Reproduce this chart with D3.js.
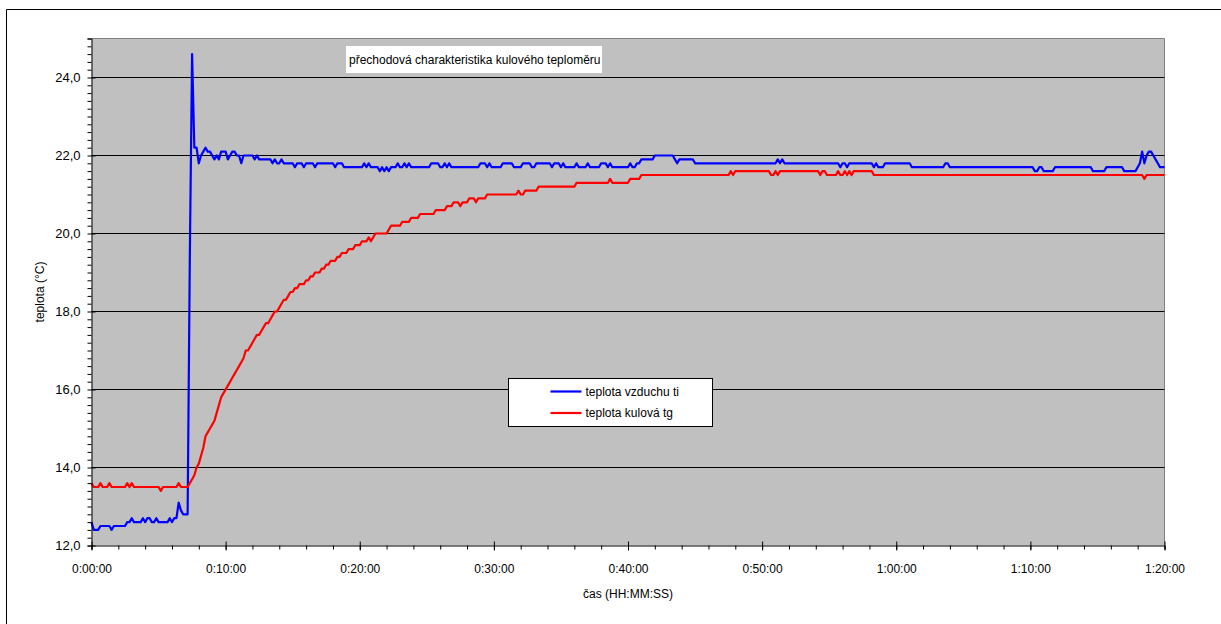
<!DOCTYPE html>
<html>
<head>
<meta charset="utf-8">
<script src="https://cdn.jsdelivr.net/npm/d3@7"></script>
<style>
  body { margin: 0; background: #fff; }
  svg text { font-family: "Liberation Sans", Arial, sans-serif; fill: #000; }
</style>
</head>
<body>
<div id="chart"></div>
<script>
// one reading every 10 s, 0:00:00 .. 1:20:00
const SAMPLE_SEC = 10

// teplota vzduchu ti (°C)
const tiValues = [
  12.6, 12.4, 12.4, 12.4, 12.5, 12.5, 12.5, 12.5, 12.5, 12.4,
  12.5, 12.5, 12.5, 12.5, 12.5, 12.5, 12.6, 12.6, 12.7, 12.6,
  12.6, 12.6, 12.6, 12.7, 12.6, 12.7, 12.7, 12.6, 12.6, 12.7,
  12.6, 12.6, 12.6, 12.6, 12.6, 12.7, 12.6, 12.7, 12.7, 13.1,
  12.9, 12.8, 12.8, 12.8, 19.5, 24.6, 22.2, 22.2, 21.8, 22.0,
  22.1, 22.2, 22.1, 22.1, 22.0, 21.9, 22.0, 21.9, 22.1, 22.1,
  22.1, 21.9, 22.0, 22.1, 22.1, 22.0, 22.0, 21.8, 22.0, 22.0,
  22.0, 22.0, 22.0, 21.9, 22.0, 21.9, 21.9, 21.9, 21.9, 21.9,
  21.9, 21.8, 21.9, 21.8, 21.8, 21.9, 21.8, 21.8, 21.8, 21.8,
  21.8, 21.7, 21.8, 21.8, 21.8, 21.7, 21.8, 21.8, 21.8, 21.8,
  21.7, 21.8, 21.8, 21.8, 21.8, 21.8, 21.8, 21.8, 21.8, 21.7,
  21.8, 21.8, 21.8, 21.7, 21.7, 21.7, 21.7, 21.7, 21.7, 21.7,
  21.7, 21.7, 21.8, 21.7, 21.8, 21.7, 21.7, 21.7, 21.7, 21.6,
  21.7, 21.6, 21.7, 21.6, 21.7, 21.7, 21.7, 21.8, 21.7, 21.7,
  21.8, 21.7, 21.8, 21.7, 21.7, 21.7, 21.7, 21.7, 21.7, 21.7,
  21.7, 21.7, 21.8, 21.8, 21.8, 21.8, 21.7, 21.7, 21.8, 21.7,
  21.8, 21.7, 21.7, 21.7, 21.7, 21.7, 21.7, 21.7, 21.7, 21.7,
  21.7, 21.7, 21.7, 21.7, 21.8, 21.8, 21.8, 21.7, 21.8, 21.7,
  21.7, 21.7, 21.7, 21.7, 21.8, 21.8, 21.8, 21.8, 21.8, 21.7,
  21.7, 21.7, 21.7, 21.8, 21.8, 21.8, 21.8, 21.7, 21.7, 21.8,
  21.8, 21.8, 21.8, 21.8, 21.8, 21.8, 21.7, 21.8, 21.8, 21.8,
  21.7, 21.8, 21.7, 21.7, 21.7, 21.7, 21.7, 21.8, 21.7, 21.7,
  21.7, 21.7, 21.8, 21.7, 21.7, 21.7, 21.7, 21.7, 21.8, 21.8,
  21.8, 21.7, 21.8, 21.7, 21.7, 21.7, 21.7, 21.7, 21.7, 21.7,
  21.7, 21.8, 21.7, 21.7, 21.8, 21.8, 21.9, 21.9, 21.9, 21.9,
  21.9, 21.9, 22.0, 22.0, 22.0, 22.0, 22.0, 22.0, 22.0, 22.0,
  22.0, 21.9, 21.8, 21.9, 21.9, 21.9, 21.9, 21.9, 21.9, 21.9,
  21.8, 21.8, 21.8, 21.8, 21.8, 21.8, 21.8, 21.8, 21.8, 21.8,
  21.8, 21.8, 21.8, 21.8, 21.8, 21.8, 21.8, 21.8, 21.8, 21.8,
  21.8, 21.8, 21.8, 21.8, 21.8, 21.8, 21.8, 21.8, 21.8, 21.8,
  21.8, 21.8, 21.8, 21.8, 21.8, 21.8, 21.8, 21.9, 21.8, 21.9,
  21.8, 21.8, 21.8, 21.8, 21.8, 21.8, 21.8, 21.8, 21.8, 21.8,
  21.8, 21.8, 21.8, 21.8, 21.8, 21.8, 21.8, 21.8, 21.8, 21.8,
  21.8, 21.8, 21.8, 21.8, 21.8, 21.7, 21.8, 21.8, 21.7, 21.8,
  21.8, 21.8, 21.8, 21.8, 21.8, 21.8, 21.8, 21.8, 21.8, 21.8,
  21.7, 21.8, 21.7, 21.7, 21.7, 21.8, 21.8, 21.8, 21.8, 21.8,
  21.8, 21.8, 21.8, 21.8, 21.8, 21.8, 21.8, 21.7, 21.7, 21.7,
  21.7, 21.7, 21.7, 21.7, 21.7, 21.7, 21.7, 21.7, 21.7, 21.7,
  21.7, 21.7, 21.8, 21.8, 21.7, 21.7, 21.7, 21.7, 21.7, 21.7,
  21.7, 21.7, 21.7, 21.7, 21.7, 21.7, 21.7, 21.7, 21.7, 21.7,
  21.7, 21.7, 21.7, 21.7, 21.7, 21.7, 21.7, 21.7, 21.7, 21.7,
  21.7, 21.7, 21.7, 21.7, 21.7, 21.7, 21.7, 21.7, 21.7, 21.7,
  21.7, 21.7, 21.6, 21.6, 21.7, 21.7, 21.6, 21.6, 21.6, 21.6,
  21.6, 21.7, 21.7, 21.7, 21.7, 21.7, 21.7, 21.7, 21.7, 21.7,
  21.7, 21.7, 21.7, 21.7, 21.7, 21.7, 21.7, 21.7, 21.6, 21.6,
  21.6, 21.6, 21.6, 21.6, 21.7, 21.7, 21.7, 21.7, 21.7, 21.7,
  21.7, 21.7, 21.6, 21.6, 21.6, 21.6, 21.6, 21.6, 21.7, 21.8,
  22.1, 21.8, 22.0, 22.1, 22.1, 22.0, 21.9, 21.8, 21.7, 21.7,
  21.7
]

// teplota kulová tg (°C)
const tgValues = [
  13.6, 13.5, 13.5, 13.5, 13.6, 13.5, 13.5, 13.5, 13.6, 13.5,
  13.5, 13.5, 13.5, 13.5, 13.5, 13.5, 13.6, 13.5, 13.6, 13.5,
  13.5, 13.5, 13.5, 13.5, 13.5, 13.5, 13.5, 13.5, 13.5, 13.5,
  13.5, 13.4, 13.5, 13.5, 13.5, 13.5, 13.5, 13.5, 13.5, 13.6,
  13.5, 13.5, 13.5, 13.5, 13.6, 13.7, 13.8, 14.0, 14.1, 14.3,
  14.5, 14.8, 14.9, 15.0, 15.1, 15.2, 15.4, 15.6, 15.8, 15.9,
  16.0, 16.1, 16.2, 16.3, 16.4, 16.5, 16.6, 16.7, 16.8, 17.0,
  17.0, 17.1, 17.2, 17.3, 17.4, 17.4, 17.5, 17.6, 17.7, 17.7,
  17.8, 17.9, 18.0, 18.0, 18.1, 18.2, 18.3, 18.3, 18.4, 18.5,
  18.5, 18.6, 18.6, 18.7, 18.7, 18.7, 18.8, 18.8, 18.9, 18.9,
  19.0, 19.0, 19.0, 19.1, 19.1, 19.2, 19.2, 19.3, 19.3, 19.3,
  19.4, 19.4, 19.5, 19.5, 19.5, 19.6, 19.6, 19.6, 19.7, 19.7,
  19.7, 19.8, 19.8, 19.8, 19.9, 19.8, 19.9, 20.0, 20.0, 20.0,
  20.0, 20.0, 20.0, 20.1, 20.2, 20.2, 20.2, 20.2, 20.2, 20.3,
  20.3, 20.3, 20.3, 20.4, 20.4, 20.4, 20.4, 20.5, 20.5, 20.5,
  20.5, 20.5, 20.5, 20.5, 20.6, 20.6, 20.6, 20.6, 20.6, 20.7,
  20.7, 20.7, 20.8, 20.8, 20.8, 20.7, 20.8, 20.8, 20.8, 20.9,
  20.9, 20.9, 20.8, 20.9, 20.9, 20.9, 20.9, 21.0, 21.0, 21.0,
  21.0, 21.0, 21.0, 21.0, 21.0, 21.0, 21.0, 21.0, 21.0, 21.0,
  21.0, 21.1, 21.0, 21.0, 21.1, 21.1, 21.1, 21.1, 21.1, 21.1,
  21.2, 21.2, 21.2, 21.2, 21.2, 21.2, 21.2, 21.2, 21.2, 21.2,
  21.2, 21.2, 21.2, 21.2, 21.2, 21.2, 21.2, 21.3, 21.3, 21.3,
  21.3, 21.3, 21.3, 21.3, 21.3, 21.3, 21.3, 21.3, 21.3, 21.3,
  21.3, 21.3, 21.4, 21.3, 21.3, 21.3, 21.3, 21.3, 21.3, 21.3,
  21.3, 21.4, 21.4, 21.4, 21.4, 21.4, 21.5, 21.5, 21.5, 21.5,
  21.5, 21.5, 21.5, 21.5, 21.5, 21.5, 21.5, 21.5, 21.5, 21.5,
  21.5, 21.5, 21.5, 21.5, 21.5, 21.5, 21.5, 21.5, 21.5, 21.5,
  21.5, 21.5, 21.5, 21.5, 21.5, 21.5, 21.5, 21.5, 21.5, 21.5,
  21.5, 21.5, 21.5, 21.5, 21.5, 21.5, 21.6, 21.5, 21.6, 21.6,
  21.6, 21.6, 21.6, 21.6, 21.6, 21.6, 21.6, 21.6, 21.6, 21.6,
  21.6, 21.6, 21.6, 21.6, 21.5, 21.5, 21.6, 21.5, 21.6, 21.6,
  21.6, 21.6, 21.6, 21.6, 21.6, 21.6, 21.6, 21.6, 21.6, 21.6,
  21.6, 21.6, 21.6, 21.6, 21.6, 21.6, 21.5, 21.6, 21.6, 21.5,
  21.5, 21.5, 21.5, 21.5, 21.6, 21.5, 21.5, 21.6, 21.5, 21.6,
  21.5, 21.6, 21.6, 21.6, 21.6, 21.6, 21.6, 21.6, 21.6, 21.6,
  21.5, 21.5, 21.5, 21.5, 21.5, 21.5, 21.5, 21.5, 21.5, 21.5,
  21.5, 21.5, 21.5, 21.5, 21.5, 21.5, 21.5, 21.5, 21.5, 21.5,
  21.5, 21.5, 21.5, 21.5, 21.5, 21.5, 21.5, 21.5, 21.5, 21.5,
  21.5, 21.5, 21.5, 21.5, 21.5, 21.5, 21.5, 21.5, 21.5, 21.5,
  21.5, 21.5, 21.5, 21.5, 21.5, 21.5, 21.5, 21.5, 21.5, 21.5,
  21.5, 21.5, 21.5, 21.5, 21.5, 21.5, 21.5, 21.5, 21.5, 21.5,
  21.5, 21.5, 21.5, 21.5, 21.5, 21.5, 21.5, 21.5, 21.5, 21.5,
  21.5, 21.5, 21.5, 21.5, 21.5, 21.5, 21.5, 21.5, 21.5, 21.5,
  21.5, 21.5, 21.5, 21.5, 21.5, 21.5, 21.5, 21.5, 21.5, 21.5,
  21.5, 21.5, 21.5, 21.5, 21.5, 21.5, 21.5, 21.5, 21.5, 21.5,
  21.5, 21.5, 21.5, 21.5, 21.5, 21.5, 21.5, 21.5, 21.5, 21.5,
  21.5, 21.5, 21.5, 21.5, 21.5, 21.5, 21.5, 21.5, 21.5, 21.5,
  21.5, 21.4, 21.5, 21.5, 21.5, 21.5, 21.5, 21.5, 21.5, 21.5,
  21.5
]

const xMajorTicks = [0, 600, 1200, 1800, 2400, 3000, 3600, 4200, 4800]
const xMinorStep = 120
const yMajorTicks = [12, 14, 16, 18, 20, 22, 24]
const yMinorStep = 0.2
const seriesNames = ['teplota vzduchu ti', 'teplota kulová tg']
const seriesColors = ['#0000ff', '#ff0000']
const chartTitle = 'přechodová charakteristika kulového teploměru'
const xTitle = 'čas (HH:MM:SS)'
const yTitle = 'teplota (°C)'

const WIDTH = 1221
const HEIGHT = 624
const PLOT = { LEFT: 91.5, RIGHT: 1164.5, TOP: 38.5, BOTTOM: 545.5 }

const svg = d3.select('#chart')
    .append('svg')
    .attr('width', WIDTH)
    .attr('height', HEIGHT)

// outer chart frame (only top/left edge inside the picture)
svg.append('path')
    .attr('d', `M6.5,${HEIGHT} V9.5 H${WIDTH}`)
    .attr('fill', 'none')
    .attr('stroke', '#000')

const x = d3.scaleLinear()
    .domain([0, 4800])
    .range([PLOT.LEFT, PLOT.RIGHT])

const y = d3.scaleLinear()
    .domain([12, 25])
    .range([PLOT.BOTTOM, PLOT.TOP])

// plot background
svg.append('rect')
    .attr('x', PLOT.LEFT)
    .attr('y', PLOT.TOP)
    .attr('width', PLOT.RIGHT - PLOT.LEFT)
    .attr('height', PLOT.BOTTOM - PLOT.TOP)
    .attr('fill', '#c0c0c0')

svg.append('path')
    .attr('d', `M${PLOT.LEFT},${PLOT.TOP} H${PLOT.RIGHT} V${PLOT.BOTTOM}`)
    .attr('fill', 'none')
    .attr('stroke', '#808080')

// horizontal gridlines
svg.append('g')
    .selectAll('line')
    .data(yMajorTicks.filter(v => v > 12))
    .enter().append('line')
    .attr('x1', PLOT.LEFT)
    .attr('x2', PLOT.RIGHT)
    .attr('y1', d => y(d))
    .attr('y2', d => y(d))
    .attr('stroke', '#000')

// title box
svg.append('rect')
    .attr('x', 346)
    .attr('y', 46)
    .attr('width', 256)
    .attr('height', 27)
    .attr('fill', '#fff')

svg.append('text')
    .attr('x', 349)
    .attr('y', 64)
    .attr('font-size', 12)
    .text(chartTitle)

// series
const line = d3.line()
    .x((d, i) => x(i * SAMPLE_SEC))
    .y(d => y(d))

const series = [tiValues, tgValues]
svg.append('g')
    .selectAll('path')
    .data(series)
    .enter().append('path')
    .attr('d', d => line(d))
    .attr('fill', 'none')
    .attr('stroke', (d, i) => seriesColors[i])
    .attr('stroke-width', 2.2)
    .attr('stroke-linejoin', 'round')

// y axis
const yMinorTicks = d3.range(0, 66).map(i => 12 + i * yMinorStep)
const yAxisMinor = svg.append('g')
    .attr('transform', `translate(${PLOT.LEFT},0)`)
    .call(d3.axisLeft(y).tickValues(yMinorTicks).tickSize(4).tickFormat(''))
yAxisMinor.select('.domain').attr('stroke', '#000')

const yAxisMajor = svg.append('g')
    .attr('transform', `translate(${PLOT.LEFT},0)`)
    .call(d3.axisLeft(y)
        .tickValues(yMajorTicks)
        .tickSize(5)
        .tickPadding(6)
        .tickFormat(d => d3.format('.1f')(d).replace('.', ',')))
yAxisMajor.select('.domain').remove()
yAxisMajor.selectAll('.tick line').attr('x2', 4)
yAxisMajor.selectAll('.tick text')
    .attr('font-size', 13)
    .attr('font-family', '"Liberation Sans", Arial, sans-serif')

// x axis
const xMinorTicks = d3.range(0, 4800 + 1, xMinorStep)
const xAxisMinor = svg.append('g')
    .attr('transform', `translate(0,${PLOT.BOTTOM})`)
    .call(d3.axisBottom(x).tickValues(xMinorTicks).tickSize(4).tickFormat(''))
xAxisMinor.select('.domain').attr('stroke', '#000')

const fmtTime = s => {
    const h = Math.floor(s / 3600)
    const m = Math.floor((s % 3600) / 60)
    const sec = s % 60
    return `${h}:${String(m).padStart(2, '0')}:${String(sec).padStart(2, '0')}`
}

const xAxisMajor = svg.append('g')
    .attr('transform', `translate(0,${PLOT.BOTTOM})`)
    .call(d3.axisBottom(x)
        .tickValues(xMajorTicks)
        .tickSize(5)
        .tickPadding(14)
        .tickFormat(fmtTime))
xAxisMajor.select('.domain').remove()
xAxisMajor.selectAll('.tick line').attr('y1', -4)
xAxisMajor.selectAll('.tick text')
    .attr('font-size', 12)
    .attr('font-family', '"Liberation Sans", Arial, sans-serif')

// axis titles
svg.append('text')
    .attr('x', (PLOT.LEFT + PLOT.RIGHT) / 2)
    .attr('y', 598)
    .attr('font-size', 12)
    .attr('text-anchor', 'middle')
    .text(xTitle)

svg.append('text')
    .attr('x', -(PLOT.TOP + PLOT.BOTTOM) / 2)
    .attr('y', 44)
    .attr('transform', 'rotate(-90)')
    .attr('font-size', 12)
    .attr('text-anchor', 'middle')
    .text(yTitle)

// legend
const legend = svg.append('g')
    .attr('transform', 'translate(508.5,378.5)')

legend.append('rect')
    .attr('width', 204)
    .attr('height', 48)
    .attr('fill', '#fff')
    .attr('stroke', '#000')

seriesNames.forEach((name, i) => {
    legend.append('line')
        .attr('x1', 42)
        .attr('x2', 73)
        .attr('y1', 13 + i * 21.5)
        .attr('y2', 13 + i * 21.5)
        .attr('stroke', seriesColors[i])
        .attr('stroke-width', 2.2)
    legend.append('text')
        .attr('x', 77)
        .attr('y', 17 + i * 21.5)
        .attr('font-size', 12)
        .text(name)
})
</script>
</body>
</html>
